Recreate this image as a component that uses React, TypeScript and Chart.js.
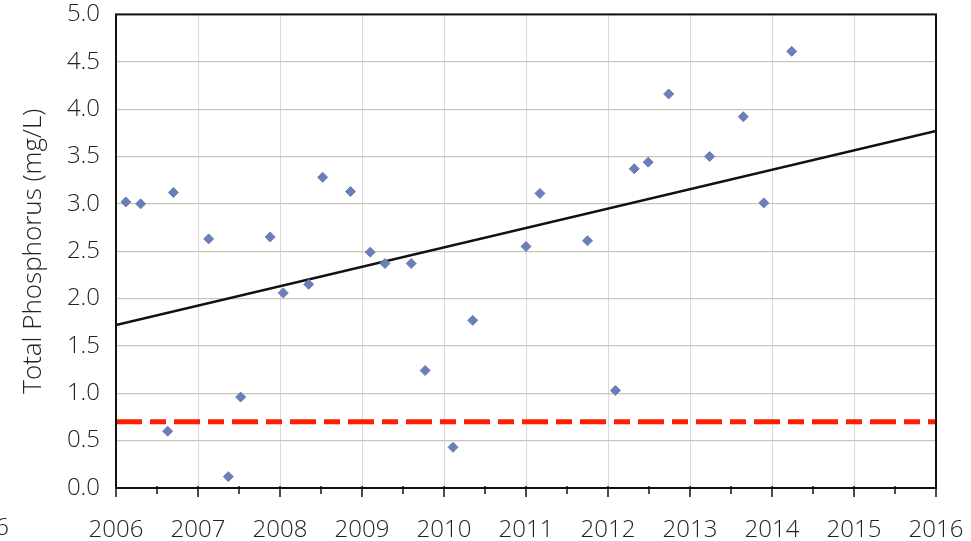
import React, { useEffect, useRef } from "react";
import { Chart, registerables } from "chart.js";

Chart.register(...registerables);

// Sampling dates (decimal years) and total phosphorus values (mg/L)
const sampleYears = [
  2006.12, 2006.30, 2006.63, 2006.70, 2007.13, 2007.37, 2007.52, 2007.88,
  2008.04, 2008.35, 2008.52, 2008.86, 2009.10, 2009.28, 2009.60, 2009.77,
  2010.11, 2010.35, 2011.00, 2011.17, 2011.75, 2012.09, 2012.32, 2012.49,
  2012.74, 2013.24, 2013.65, 2013.90, 2014.24,
];
const phosphorus = [
  3.02, 3.00, 0.60, 3.12, 2.63, 0.12, 0.96, 2.65,
  2.06, 2.15, 3.28, 3.13, 2.49, 2.37, 2.37, 1.24,
  0.43, 1.77, 2.55, 3.11, 2.61, 1.03, 3.37, 3.44,
  4.16, 3.50, 3.92, 3.01, 4.61,
];

// Linear trend line end points
const trendYears = [2006, 2016];
const trendValues = [1.72, 3.77];

// Criterion line
const criterionYears = [2006, 2016];
const criterionValues = [0.7, 0.7];

const yAxisTitle = "Total Phosphorus (mg/L)";
const strayLabel = "6";

const FONT = "'Open Sans', 'DejaVu Sans', sans-serif";

const framePlugin = {
  id: "frame",
  afterDraw(chart: any) {
    const { ctx, chartArea } = chart;
    const xs = chart.scales.x;
    ctx.save();
    // x-axis tick marks (major at years, minor at half years)
    ctx.strokeStyle = "#111";
    ctx.lineWidth = 1.5;
    xs.ticks.forEach((t: any) => {
      const px = xs.getPixelForValue(t.value);
      const len = Number.isInteger(t.value) ? 9 : 6;
      ctx.beginPath();
      ctx.moveTo(px, chartArea.bottom - 2);
      ctx.lineTo(px, chartArea.bottom + len);
      ctx.stroke();
    });
    // frame
    ctx.lineWidth = 2;
    ctx.strokeRect(chartArea.left, chartArea.top, chartArea.right - chartArea.left, chartArea.bottom - chartArea.top);
    ctx.fillStyle = "#222";
    ctx.font = `300 24px ${FONT}`;
    ctx.textAlign = "right";
    ctx.textBaseline = "middle";
    ctx.fillText(strayLabel, 9, 528);
    ctx.restore();
  },
};

export default function App() {
  const ref = useRef<HTMLCanvasElement | null>(null);

  useEffect(() => {
    if (!ref.current) return;
    const chart = new Chart(ref.current, {
      type: "scatter",
      data: {
        datasets: [
          {
            type: "line",
            label: "Criterion",
            data: criterionYears.map((x, i) => ({ x, y: criterionValues[i] })),
            borderColor: "#ff1e00",
            borderWidth: 5,
            borderDash: [26, 8, 16, 8],
            borderCapStyle: "butt",
            pointRadius: 0,
            fill: false,
            order: 3,
          } as any,
          {
            type: "line",
            label: "Trend",
            data: trendYears.map((x, i) => ({ x, y: trendValues[i] })),
            borderColor: "#111",
            borderWidth: 2.5,
            pointRadius: 0,
            fill: false,
            order: 2,
          } as any,
          {
            label: "Total Phosphorus",
            data: sampleYears.map((x, i) => ({ x, y: phosphorus[i] })),
            pointStyle: "rectRot",
            pointRadius: 5,
            backgroundColor: "#6a7fb8",
            borderColor: "#6a7fb8",
            borderWidth: 1,
            order: 1,
          },
        ],
      },
      options: {
        responsive: false,
        animation: false,
        layout: { padding: { top: 0, right: 35, left: 0, bottom: 0 } },
        plugins: { legend: { display: false }, tooltip: { enabled: false } },
        scales: {
          x: {
            type: "linear",
            min: 2006,
            max: 2016,
            afterFit: (s: any) => {
              s.height = 53;
            },
            ticks: {
              stepSize: 0.5,
              autoSkip: false,
              maxRotation: 0,
              padding: 0,
              color: "#222",
              font: { family: FONT, size: 24, weight: "300" },
              callback: (v: any) => (Number.isInteger(v) ? String(v) : ""),
            },
            grid: {
              color: (c: any) => (Number.isInteger(c.tick?.value) ? "#d9d9d9" : "rgba(0,0,0,0)"),
              tickColor: "rgba(0,0,0,0)",
              tickLength: 28,
              lineWidth: 1,
            },
            border: { display: false },
          },
          y: {
            min: 0,
            max: 5,
            afterFit: (s: any) => {
              s.width = 116;
            },
            ticks: {
              stepSize: 0.5,
              padding: 0,
              color: "#222",
              font: { family: FONT, size: 24, weight: "300" },
              callback: (v: any) => Number(v).toFixed(1),
            },
            grid: { color: "#c8c8b4", drawTicks: true, tickLength: 16, tickColor: "rgba(0,0,0,0)", lineWidth: 1.2 },
            border: { display: false },
            title: {
              display: true,
              text: yAxisTitle,
              color: "#222",
              font: { family: FONT, size: 26, weight: "300" },
              padding: { top: 18, bottom: 0 },
            },
          },
        },
      },
      plugins: [framePlugin],
    });
    return () => chart.destroy();
  }, []);

  return (
    <div style={{ position: "fixed", left: 0, top: 0, width: 971, height: 541, background: "#fff" }}>
      <canvas ref={ref} width={971} height={541} />
    </div>
  );
}
